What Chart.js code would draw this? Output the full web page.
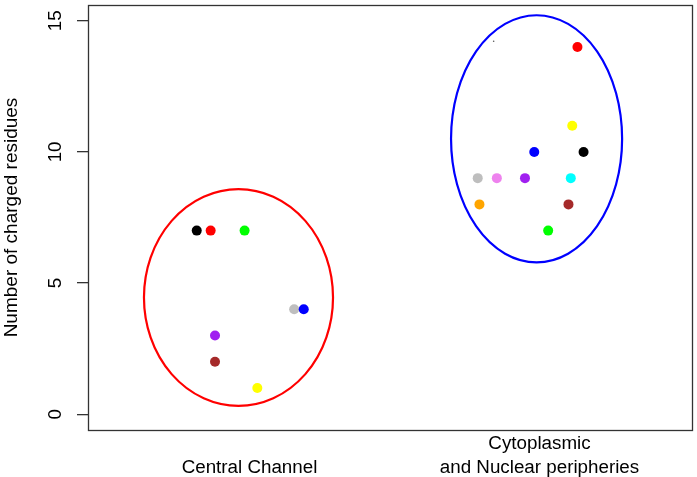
<!DOCTYPE html>
<html>
<head>
<meta charset="utf-8">
<script src="https://cdn.jsdelivr.net/npm/chart.js@4"></script>
<style>
  html, body { margin: 0; padding: 0; background: #fff; }
  #wrap { width: 697px; height: 477px; }
</style>
</head>
<body>
<div id="wrap"><canvas id="chart" width="697" height="477"></canvas></div>
<script>
// categories on the x axis (placed at x = 1 and x = 2)
var categories = ["Central Channel", ["Cytoplasmic", "and Nuclear peripheries"]];
var categoryPos = [1, 2];
var yTicks = [0, 5, 10, 15];

// Central Channel group (x is jittered around 1)
var ccX = [0.818, 0.866, 0.983, 1.154, 1.187, 0.881, 0.881, 1.027];
var ccY = [7, 7, 7, 4, 4, 3, 2, 1];
var ccColors = ["#000000", "#FF0000", "#00FF00", "#BEBEBE", "#0000FF", "#A020F0", "#A52A2A", "#FFFF00"];

// Cytoplasmic and Nuclear peripheries group (x jittered around 2)
var cnX = [2.131, 2.113, 1.982, 2.152, 1.787, 1.853, 1.950, 2.108, 1.793, 2.100, 2.030];
var cnY = [14, 11, 10, 10, 9, 9, 9, 9, 8, 8, 7];
var cnColors = ["#FF0000", "#FFFF00", "#0000FF", "#000000", "#BEBEBE", "#EE82EE", "#A020F0", "#00FFFF", "#FFA500", "#A52A2A", "#00FF00"];

// stray speck in the upper group
var speckX = [1.842];
var speckY = [14.22];

// ellipses round each group: centre x, centre y, radius x, radius y (data units)
var ellipseCX = [0.962, 1.990];
var ellipseCY = [4.45, 10.5];
var ellipseRX = [0.326, 0.295];
var ellipseRY = [4.13, 4.71];
var ellipseColors = ["#FF0000", "#0000FF"];

function toPoints(xs, ys) {
    return xs.map(function(x, i) { return { x: x, y: ys[i] }; });
}

var FONT = "'Liberation Sans', Arial, Helvetica, sans-serif";

// ellipses and the box around the plot
var groupEllipses = {
    id: "groupEllipses",
    beforeDatasetsDraw: function(chart) {
        var ctx = chart.ctx;
        var xs = chart.scales.x, ys = chart.scales.y;
        ctx.save();
        for (var i = 0; i < ellipseCX.length; i++) {
            var cx = xs.getPixelForValue(ellipseCX[i]);
            var cy = ys.getPixelForValue(ellipseCY[i]);
            var rx = Math.abs(xs.getPixelForValue(ellipseCX[i] + ellipseRX[i]) - cx);
            var ry = Math.abs(ys.getPixelForValue(ellipseCY[i] + ellipseRY[i]) - cy);
            ctx.beginPath();
            ctx.ellipse(cx, cy, rx, ry, 0, 0, Math.PI * 2);
            ctx.lineWidth = 2.2;
            ctx.strokeStyle = ellipseColors[i];
            ctx.stroke();
        }
        ctx.restore();
    },
    afterDraw: function(chart) {
        var a = chart.chartArea;
        var ctx = chart.ctx;
        ctx.save();
        ctx.strokeStyle = "#333";
        ctx.lineWidth = 1.3;
        ctx.strokeRect(Math.round(a.left) + 0.5, Math.round(a.top) + 0.5,
            Math.round(a.right - a.left), Math.round(a.bottom - a.top));
        ctx.restore();
    }
};

new Chart(document.getElementById("chart").getContext("2d"), {
    type: "scatter",
    data: {
        datasets: [
            {
                label: "Central Channel",
                data: toPoints(ccX, ccY),
                pointBackgroundColor: ccColors,
                pointBorderColor: ccColors,
                pointRadius: 5,
                pointBorderWidth: 0
            },
            {
                label: "Cytoplasmic and Nuclear peripheries",
                data: toPoints(cnX, cnY),
                pointBackgroundColor: cnColors,
                pointBorderColor: cnColors,
                pointRadius: 5,
                pointBorderWidth: 0
            },
            {
                label: "speck",
                data: toPoints(speckX, speckY),
                pointBackgroundColor: "#555",
                pointBorderColor: "#555",
                pointRadius: 0.8,
                pointBorderWidth: 0
            }
        ]
    },
    options: {
        responsive: false,
        animation: false,
        events: [],
        layout: { padding: { left: 0, top: 3, right: 3, bottom: 0 } },
        plugins: {
            legend: { display: false },
            tooltip: { enabled: false }
        },
        scales: {
            x: {
                type: "linear",
                min: 0.443,
                max: 2.526,
                afterBuildTicks: function(scale) {
                    scale.ticks = categoryPos.map(function(v) { return { value: v }; });
                },
                afterFit: function(scale) {
                    scale.height = 47;
                    scale.paddingLeft = 0;
                    scale.paddingRight = 0;
                },
                grid: { display: false, drawTicks: false },
                border: { display: false },
                ticks: {
                    color: "#000",
                    font: { family: FONT, size: 18.8, lineHeight: 1.25 },
                    padding: 14,
                    crossAlign: "far",
                    maxRotation: 0,
                    autoSkip: false,
                    callback: function(value) {
                        var i = categoryPos.indexOf(value);
                        return i >= 0 ? categories[i] : "";
                    }
                }
            },
            y: {
                min: -0.6,
                max: 15.6,
                afterBuildTicks: function(scale) {
                    scale.ticks = yTicks.map(function(v) { return { value: v }; });
                },
                afterFit: function(scale) {
                    scale.width = 88;
                    scale.paddingTop = 0;
                    scale.paddingBottom = 0;
                },
                grid: {
                    drawOnChartArea: false,
                    drawTicks: true,
                    tickLength: 11,
                    color: "#333",
                    lineWidth: 1.3
                },
                border: { display: false },
                title: {
                    display: true,
                    text: "Number of charged residues",
                    color: "#000",
                    font: { family: FONT, size: 19 },
                    padding: { top: 0, bottom: 0 }
                },
                ticks: {
                    color: "#000",
                    font: { family: FONT, size: 18.8 },
                    minRotation: 90,
                    maxRotation: 90,
                    crossAlign: "center",
                    padding: 11,
                    autoSkip: false
                }
            }
        }
    },
    plugins: [groupEllipses]
});
</script>
</body>
</html>
